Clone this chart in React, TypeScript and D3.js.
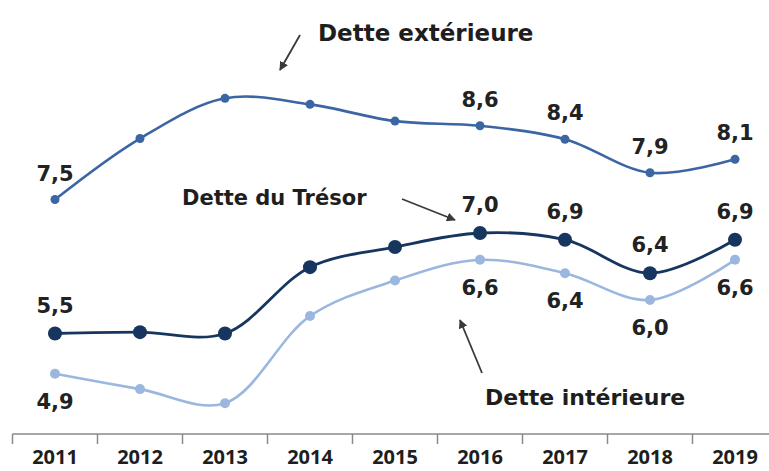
import React from "react";
import * as d3 from "d3";

// years on the x axis
const years = ["2011", "2012", "2013", "2014", "2015", "2016", "2017", "2018", "2019"];

// series values
const detteExterieure = [7.5, 8.41, 9.01, 8.92, 8.67, 8.6, 8.4, 7.9, 8.1];
const detteTresor = [5.5, 5.52, 5.5, 6.49, 6.79, 7.0, 6.9, 6.4, 6.9];
const detteInterieure = [4.9, 4.67, 4.46, 5.76, 6.29, 6.6, 6.4, 6.0, 6.6];

// years that carry a value label
const labeledYears = ["2011", "2016", "2017", "2018", "2019"];

const width = 769;
const height = 471;
const font = "'DejaVu Sans', sans-serif";

interface Series {
  name: string;
  values: number[];
  color: string;
  stroke: number;
  r: number;
  labelDy: number; // offset of value label from point
}

const series: Series[] = [
  { name: "Dette extérieure", values: detteExterieure, color: "#3c65a4", stroke: 2.6, r: 4.5, labelDy: -19 },
  { name: "Dette intérieure", values: detteInterieure, color: "#9bb7df", stroke: 2.6, r: 5, labelDy: 35 },
  { name: "Dette du Trésor", values: detteTresor, color: "#16365f", stroke: 2.8, r: 7, labelDy: -21 },
];

const fmt = (v: number) => v.toFixed(1).replace(".", ",");

const App: React.FC = () => {
  const x = d3.scaleBand<string>().domain(years).range([12.5, 777.5]).padding(0);
  const cx = (y: string) => (x(y) as number) + x.bandwidth() / 2;
  const yScale = d3.scaleLinear().domain([4, 9]).range([434, 99]);

  const line = d3
    .line<number>()
    .x((_, i) => cx(years[i]))
    .y((d) => yScale(d))
    .curve(d3.curveCatmullRom.alpha(0.5));

  const axisY = 434;

  return (
    <svg
      width={width}
      height={height}
      style={{ position: "absolute", left: 0, top: 0, background: "#fff" }}
      fontFamily={font}
    >
      <defs>
        <marker id="arr" viewBox="0 0 10 10" refX="9" refY="5" markerWidth="5" markerHeight="5" orient="auto">
          <path d="M0,0 L10,5 L0,10 z" fill="#3a3a3a" />
        </marker>
      </defs>

      {/* x axis */}
      <line x1={12.5} x2={width} y1={axisY} y2={axisY} stroke="#8a8a8a" strokeWidth={1.5} />
      {years.map((y) => (
        <line key={y} x1={x(y)} x2={x(y)} y1={axisY} y2={axisY + 10} stroke="#8a8a8a" strokeWidth={1.5} />
      ))}
      {years.map((y) => (
        <text
          key={"t" + y}
          x={cx(y)}
          y={464}
          textAnchor="middle"
          fontSize={20}
          fontWeight={700}
          fill="#1e1e1e"
          fontFamily="'Open Sans', sans-serif"
        >
          {y}
        </text>
      ))}

      {/* lines */}
      {series.map((s) => (
        <g key={s.name}>
          <path d={line(s.values) || ""} fill="none" stroke={s.color} strokeWidth={s.stroke} />
          {s.values.map((v, i) => (
            <circle key={i} cx={cx(years[i])} cy={yScale(v)} r={s.r} fill={s.color} />
          ))}
          {s.values.map((v, i) =>
            labeledYears.includes(years[i]) ? (
              <text
                key={"l" + i}
                x={cx(years[i])}
                y={yScale(v) + s.labelDy}
                textAnchor="middle"
                fontSize={21}
                fontWeight={700}
                fill="#222"
              >
                {fmt(v)}
              </text>
            ) : null
          )}
        </g>
      ))}

      {/* annotations */}
      <text x={318} y={41} fontSize={23} fontWeight={700} fill="#1e1e1e">Dette extérieure</text>
      <line x1={300} y1={35} x2={280} y2={70} stroke="#3a3a3a" strokeWidth={1.8} markerEnd="url(#arr)" />

      <text x={182} y={205} fontSize={21} fontWeight={700} fill="#1e1e1e">Dette du Trésor</text>
      <line x1={402} y1={199} x2={455} y2={220} stroke="#3a3a3a" strokeWidth={1.8} markerEnd="url(#arr)" />

      <text x={485} y={405} fontSize={22} fontWeight={700} fill="#1e1e1e">Dette intérieure</text>
      <line x1={482} y1={373} x2={460} y2={320} stroke="#3a3a3a" strokeWidth={1.8} markerEnd="url(#arr)" />
    </svg>
  );
};

export default App;
